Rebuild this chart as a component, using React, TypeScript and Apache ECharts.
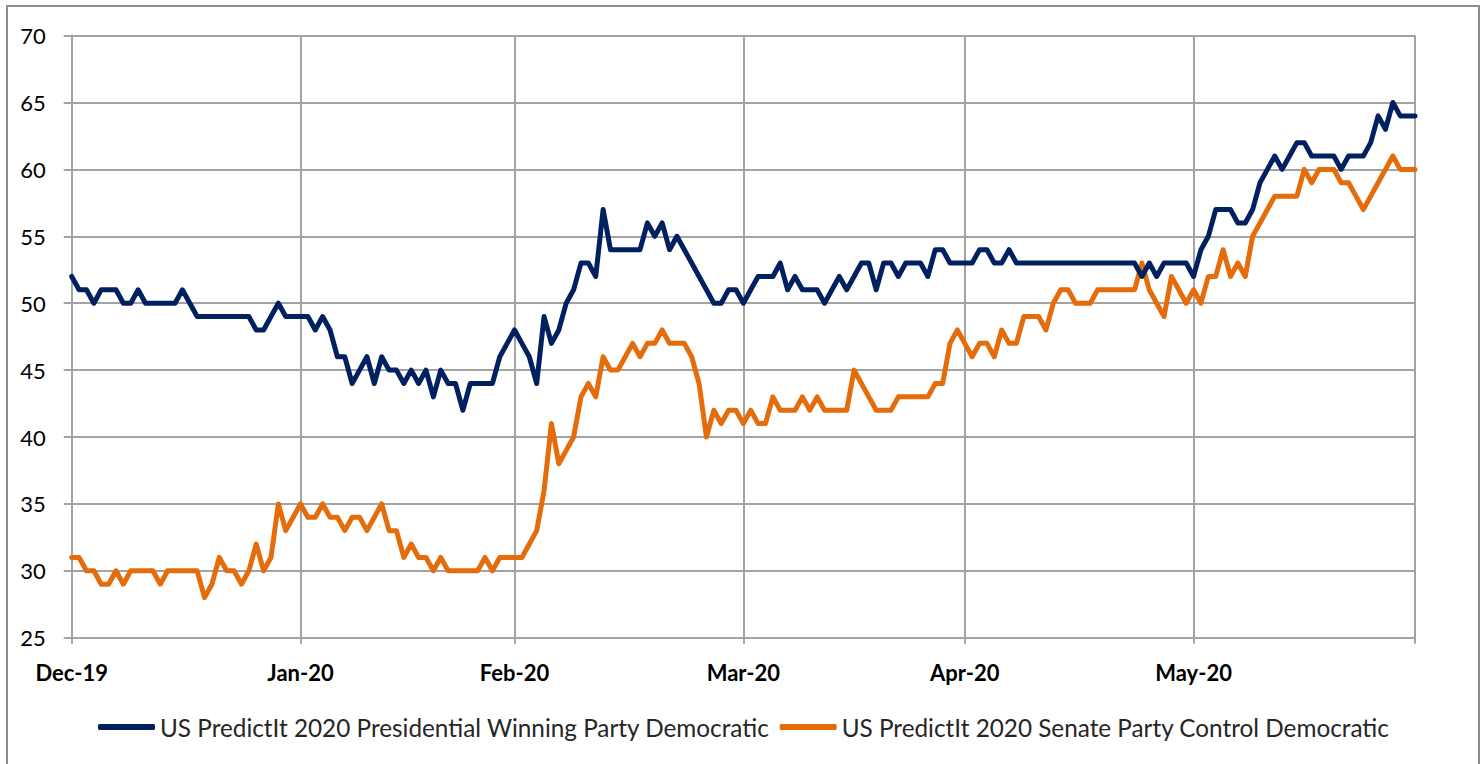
import React, { useEffect, useRef } from "react";
import * as echarts from "echarts";

// Daily observations, 31 Dec 2019 .. 30 Jun 2020
const startDate = "2019-12-31";
const dayCount = 183;

// Month ticks (Excel date axis stepping one month from 31 Dec 2019)
const tickIndices = [0, 31, 60, 91, 121, 152, 182];
const tickLabels = ["Dec-19", "Jan-20", "Feb-20", "Mar-20", "Apr-20", "May-20", ""];

const yTicks = [25, 30, 35, 40, 45, 50, 55, 60, 65, 70];

const seriesNames = [
  "US PredictIt 2020 Presidential Winning Party Democratic",
  "US PredictIt 2020 Senate Party Control Democratic",
];

const presidential = [
  52, 51, 51, 50, 51, 51, 51, 50, 50, 51,
  50, 50, 50, 50, 50, 51, 50, 49, 49, 49,
  49, 49, 49, 49, 49, 48, 48, 49, 50, 49,
  49, 49, 49, 48, 49, 48, 46, 46, 44, 45,
  46, 44, 46, 45, 45, 44, 45, 44, 45, 43,
  45, 44, 44, 42, 44, 44, 44, 44, 46, 47,
  48, 47, 46, 44, 49, 47, 48, 50, 51, 53,
  53, 52, 57, 54, 54, 54, 54, 54, 56, 55,
  56, 54, 55, 54, 53, 52, 51, 50, 50, 51,
  51, 50, 51, 52, 52, 52, 53, 51, 52, 51,
  51, 51, 50, 51, 52, 51, 52, 53, 53, 51,
  53, 53, 52, 53, 53, 53, 52, 54, 54, 53,
  53, 53, 53, 54, 54, 53, 53, 54, 53, 53,
  53, 53, 53, 53, 53, 53, 53, 53, 53, 53,
  53, 53, 53, 53, 53, 52, 53, 52, 53, 53,
  53, 53, 52, 54, 55, 57, 57, 57, 56, 56,
  57, 59, 60, 61, 60, 61, 62, 62, 61, 61,
  61, 61, 60, 61, 61, 61, 62, 64, 63, 65,
  64, 64, 64,
];

const senate = [
  31, 31, 30, 30, 29, 29, 30, 29, 30, 30,
  30, 30, 29, 30, 30, 30, 30, 30, 28, 29,
  31, 30, 30, 29, 30, 32, 30, 31, 35, 33,
  34, 35, 34, 34, 35, 34, 34, 33, 34, 34,
  33, 34, 35, 33, 33, 31, 32, 31, 31, 30,
  31, 30, 30, 30, 30, 30, 31, 30, 31, 31,
  31, 31, 32, 33, 36, 41, 38, 39, 40, 43,
  44, 43, 46, 45, 45, 46, 47, 46, 47, 47,
  48, 47, 47, 47, 46, 44, 40, 42, 41, 42,
  42, 41, 42, 41, 41, 43, 42, 42, 42, 43,
  42, 43, 42, 42, 42, 42, 45, 44, 43, 42,
  42, 42, 43, 43, 43, 43, 43, 44, 44, 47,
  48, 47, 46, 47, 47, 46, 48, 47, 47, 49,
  49, 49, 48, 50, 51, 51, 50, 50, 50, 51,
  51, 51, 51, 51, 51, 53, 51, 50, 49, 52,
  51, 50, 51, 50, 52, 52, 54, 52, 53, 52,
  55, 56, 57, 58, 58, 58, 58, 60, 59, 60,
  60, 60, 59, 59, 58, 57, 58, 59, 60, 61,
  60, 60, 60,
];

const colors = ["#002060", "#E46C0A"];

function buildDates(): string[] {
  const out: string[] = [];
  const d0 = new Date(startDate + "T00:00:00Z");
  for (let i = 0; i < dayCount; i++) {
    const d = new Date(d0.getTime() + i * 86400000);
    out.push(d.toISOString().slice(0, 10));
  }
  return out;
}

export default function App() {
  const ref = useRef<HTMLDivElement>(null);

  useEffect(() => {
    if (!ref.current) return;
    const chart = echarts.init(ref.current, undefined, { renderer: "svg" });
    const dates = buildDates();
    const gridColor = "#A3A3A3";
    const font = "Lato, 'Open Sans', sans-serif";
    const isTick = (i: number) => tickIndices.indexOf(i) >= 0;

    chart.setOption({
      animation: false,
      backgroundColor: "#ffffff",
      grid: { left: 71.7, right: 69, top: 35.6, bottom: 126.3, containLabel: false },
      graphic: [
        {
          type: "rect",
          silent: true,
          shape: { x: 7, y: 6, width: 1472, height: 800 },
          style: { fill: "none", stroke: "#8C8C8C", lineWidth: 2 },
        },
      ],
      legend: {
        left: 98,
        top: 715,
        padding: 0,
        itemWidth: 57,
        itemHeight: 6,
        itemGap: 10,
        icon: "roundRect",
        textStyle: { fontFamily: font, fontSize: 24.3, color: "#262626" },
        data: seriesNames,
      },
      xAxis: {
        type: "category",
        data: dates,
        boundaryGap: false,
        axisLine: { show: true, lineStyle: { color: gridColor, width: 2 } },
        axisTick: {
          show: true,
          interval: (i: number) => isTick(i),
          length: 6,
          lineStyle: { color: gridColor, width: 2 },
        },
        splitLine: {
          show: true,
          interval: (i: number) => isTick(i),
          lineStyle: { color: gridColor, width: 2 },
        },
        axisLabel: {
          interval: (i: number) => isTick(i) && i !== 182,
          formatter: (_v: string, i: number) => {
            const k = tickIndices.indexOf(i);
            return k >= 0 ? tickLabels[k] : "";
          },
          margin: 24,
          fontFamily: font,
          fontSize: 22,
          fontWeight: "bold",
          color: "#000000",
        },
      },
      yAxis: {
        type: "value",
        min: yTicks[0],
        max: yTicks[yTicks.length - 1],
        interval: 5,
        axisLine: { show: true, lineStyle: { color: gridColor, width: 2 } },
        axisTick: { show: true, length: 8, lineStyle: { color: gridColor, width: 2 } },
        splitLine: { show: true, lineStyle: { color: gridColor, width: 2 } },
        axisLabel: {
          margin: 26,
          fontFamily: font,
          fontSize: 22,
          color: "#000000",
        },
      },
      series: [
        {
          name: seriesNames[0],
          type: "line",
          data: presidential,
          symbol: "none",
          color: colors[0],
          lineStyle: { width: 5, color: colors[0], cap: "round", join: "round" },
          z: 3,
        },
        {
          name: seriesNames[1],
          type: "line",
          data: senate,
          symbol: "none",
          color: colors[1],
          lineStyle: { width: 5, color: colors[1], cap: "round", join: "round" },
          z: 2,
        },
      ],
    });
    return () => chart.dispose();
  }, []);

  return (
    <div
      ref={ref}
      style={{ position: "absolute", left: 0, top: 0, width: 1484, height: 764 }}
    />
  );
}
